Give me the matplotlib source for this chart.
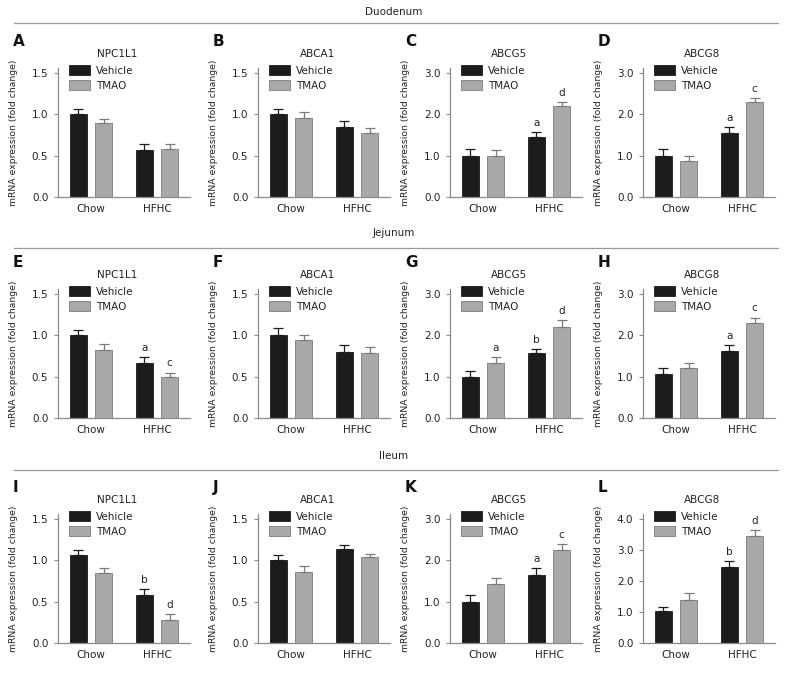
import matplotlib
matplotlib.use("Agg")
import matplotlib.pyplot as plt
from matplotlib.patches import Patch
from matplotlib.ticker import FormatStrFormatter, MultipleLocator
from matplotlib.lines import Line2D

# ---------------- data ----------------
groups = ["Chow", "HFHC"]
series_names = ["Vehicle", "TMAO"]
sections = ["Duodenum", "Jejunum", "Ileum"]
panel_letters = ["A", "B", "C", "D", "E", "F", "G", "H", "I", "J", "K", "L"]
panel_genes = ["NPC1L1", "ABCA1", "ABCG5", "ABCG8"] * 3
ytop_ticks = [1.5, 1.5, 3.0, 3.0, 1.5, 1.5, 3.0, 3.0, 1.5, 1.5, 3.0, 4.0]

vehicle_means = [[1.00, 0.57], [1.00, 0.85], [1.00, 1.46], [1.00, 1.55],
                 [1.00, 0.67], [1.00, 0.80], [1.00, 1.57], [1.07, 1.62],
                 [1.06, 0.58], [1.00, 1.14], [1.00, 1.65], [1.02, 2.44]]
vehicle_sem = [[0.07, 0.07], [0.06, 0.07], [0.17, 0.12], [0.16, 0.14],
               [0.07, 0.07], [0.09, 0.08], [0.14, 0.10], [0.15, 0.14],
               [0.07, 0.07], [0.06, 0.05], [0.16, 0.17], [0.15, 0.19]]
tmao_means = [[0.89, 0.58], [0.96, 0.77], [1.00, 2.19], [0.87, 2.29],
              [0.82, 0.49], [0.94, 0.79], [1.33, 2.20], [1.22, 2.30],
              [0.85, 0.28], [0.86, 1.04], [1.42, 2.26], [1.39, 3.45]]
tmao_sem = [[0.05, 0.06], [0.07, 0.06], [0.14, 0.11], [0.11, 0.10],
            [0.08, 0.06], [0.06, 0.07], [0.15, 0.17], [0.12, 0.13],
            [0.06, 0.07], [0.07, 0.04], [0.16, 0.14], [0.21, 0.18]]
vehicle_sig = [["", ""], ["", ""], ["", "a"], ["", "a"],
               ["", "a"], ["", ""], ["", "b"], ["", "a"],
               ["", "b"], ["", ""], ["", "a"], ["", "b"]]
tmao_sig = [["", ""], ["", ""], ["", "d"], ["", "c"],
            ["", "c"], ["", ""], ["a", "d"], ["", "c"],
            ["", "d"], ["", ""], ["", "c"], ["", "d"]]

# ---------------- style ----------------
W, H = 787, 678
fig = plt.figure(figsize=(W / 100, H / 100), dpi=100)
plt.rcParams["font.family"] = ["DejaVu Sans"]

veh_color = "#1c1c1c"
tmao_color = "#a9a9a9"
tmao_edge = "#7a7a7a"
axis_color = "#8a8a8a"
text_color = "#222222"
fs = 7.5

col_left = [58, 258, 450, 643]
ax_w = 132
row_bottom = [197, 418, 643]
ax_h = 129
section_text_y = [12, 233, 456]
section_line_y = [23, 248, 470]

def px_box(left, bottom, w, h):
    return [left / W, 1 - bottom / H, w / W, h / H]

for r in range(3):
    fig.text(0.5, 1 - section_text_y[r] / H, sections[r], ha="center", va="center",
             fontsize=fs, color=text_color)
    fig.add_artist(Line2D([14 / W, 778 / W], [1 - section_line_y[r] / H] * 2,
                          color="#9a9a9a", lw=0.9))

x = [0, 1]
off = 0.19
bw = 0.27

for i in range(12):
    r, c = divmod(i, 4)
    ax = fig.add_axes(px_box(col_left[c], row_bottom[r], ax_w, ax_h))
    ytop = ytop_ticks[i]
    xv = [xi - off for xi in x]
    xt = [xi + off for xi in x]
    ax.bar(xv, vehicle_means[i], bw, color=veh_color, edgecolor=veh_color, lw=0.6,
           yerr=[[0, 0], vehicle_sem[i]], error_kw=dict(ecolor=veh_color, elinewidth=0.9,
                                                         capsize=3.5, capthick=0.9))
    ax.bar(xt, tmao_means[i], bw, color=tmao_color, edgecolor=tmao_edge, lw=0.6,
           yerr=[[0, 0], tmao_sem[i]], error_kw=dict(ecolor=tmao_edge, elinewidth=0.9,
                                                      capsize=3.5, capthick=0.9))
    for j in range(2):
        if vehicle_sig[i][j]:
            ax.annotate(vehicle_sig[i][j], (xv[j], vehicle_means[i][j] + vehicle_sem[i][j]),
                        xytext=(0, 3), textcoords="offset points", ha="center", va="bottom",
                        fontsize=fs, color=text_color)
        if tmao_sig[i][j]:
            ax.annotate(tmao_sig[i][j], (xt[j], tmao_means[i][j] + tmao_sem[i][j]),
                        xytext=(0, 3), textcoords="offset points", ha="center", va="bottom",
                        fontsize=fs, color=text_color)
    ax.set_xlim(-0.5, 1.5)
    ax.set_ylim(0, ytop * 1.04)
    ax.yaxis.set_major_locator(MultipleLocator(0.5 if ytop == 1.5 else 1.0))
    ax.yaxis.set_major_formatter(FormatStrFormatter("%.1f"))
    ax.set_xticks(x)
    ax.set_xticklabels(groups)
    for s in ["top", "right"]:
        ax.spines[s].set_visible(False)
    for s in ["left", "bottom"]:
        ax.spines[s].set_color(axis_color)
        ax.spines[s].set_linewidth(0.9)
    ax.tick_params(axis="y", length=3, width=0.8, color=axis_color, pad=4,
                   labelsize=fs, labelcolor=text_color)
    ax.tick_params(axis="x", length=0, pad=5, labelsize=fs, labelcolor=text_color)
    ax.set_ylabel("mRNA expression (fold change)", fontsize=6.7, color=text_color)
    ax.yaxis.set_label_coords(-40 / ax_w, 0.5)
    ax.set_title(panel_genes[i], fontsize=fs, color=text_color, x=0.45, pad=8)
    handles = [Patch(facecolor=veh_color, edgecolor=veh_color, lw=0.6),
               Patch(facecolor=tmao_color, edgecolor=tmao_edge, lw=0.6)]
    ax.legend(handles, series_names, loc="upper left", bbox_to_anchor=(0.08, 1.02),
              frameon=False, fontsize=fs, handlelength=2.1, handleheight=1.1,
              handletextpad=0.5, labelspacing=0.4, borderpad=0, borderaxespad=0,
              labelcolor=text_color)
    fig.text((col_left[c] - 45) / W, 1 - (row_bottom[r] - ax_h - 34) / H, panel_letters[i],
             fontsize=11, fontweight="bold", ha="left", va="top", color="#111111")

fig.savefig("out.png", dpi=100)
